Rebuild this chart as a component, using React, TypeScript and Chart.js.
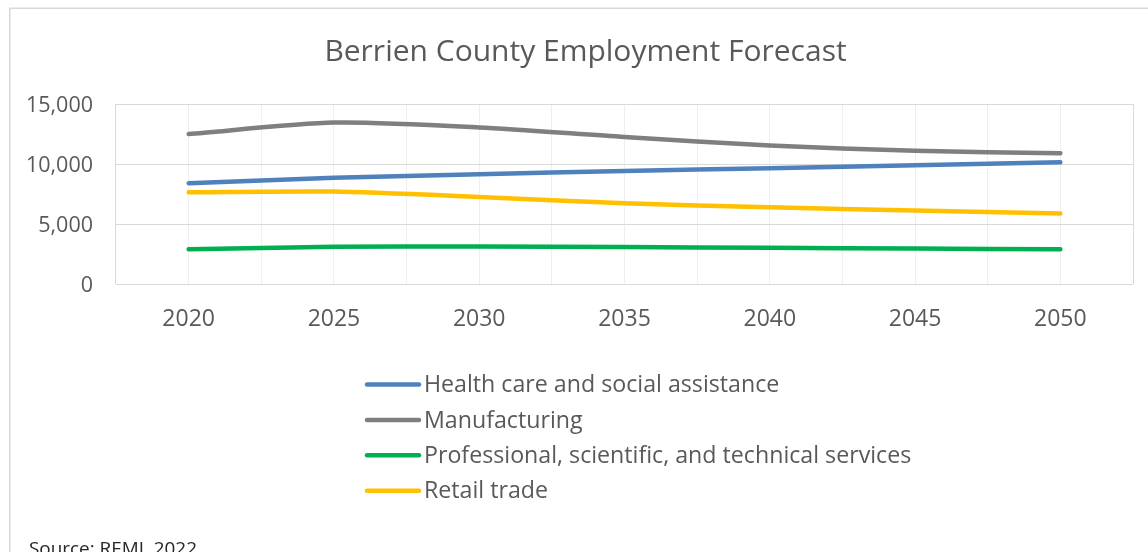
import React, { useEffect, useRef } from "react";
import { Chart, registerables } from "chart.js";

Chart.register(...registerables);

const years = ["2020", "2025", "2030", "2035", "2040", "2045", "2050"];
const health = [8400, 8850, 9150, 9420, 9650, 9900, 10150];
const manufacturing = [12500, 13450, 13050, 12250, 11550, 11100, 10900];
const professional = [2900, 3100, 3120, 3080, 3020, 2950, 2900];
const retail = [7650, 7700, 7250, 6720, 6400, 6120, 5880];
const seriesNames = [
  "Health care and social assistance",
  "Manufacturing",
  "Professional, scientific, and technical services",
  "Retail trade",
];
const seriesColors = ["#4f81bd", "#7f7f7f", "#00b050", "#ffc000"];
const titleText = "Berrien County Employment Forecast";
const sourceText = "Source: REMI, 2022";

const FONT = '"Open Sans", "Noto Sans", sans-serif';
const TEXT = "#595959";

const decorPlugin = {
  id: "decor",
  beforeDraw(chart: any) {
    const ctx = chart.ctx;
    ctx.save();
    ctx.fillStyle = "#ffffff";
    ctx.fillRect(0, 0, chart.width, chart.height);
    ctx.strokeStyle = "#d9d9d9";
    ctx.lineWidth = 1.5;
    ctx.beginPath();
    ctx.moveTo(9.75, chart.height);
    ctx.lineTo(9.75, 8.25);
    ctx.lineTo(chart.width, 8.25);
    ctx.stroke();
    ctx.restore();
  },
  afterDraw(chart: any) {
    const ctx = chart.ctx;
    ctx.save();
    // title
    ctx.fillStyle = TEXT;
    ctx.font = `30px ${FONT}`;
    ctx.textAlign = "center";
    ctx.textBaseline = "alphabetic";
    ctx.fillText(titleText, 585.5, 61);
    // legend
    chart.data.datasets.forEach((ds: any, i: number) => {
      const y = 384.5 + i * 35.4;
      ctx.strokeStyle = ds.borderColor;
      ctx.lineWidth = 4.5;
      ctx.lineCap = "round";
      ctx.beginPath();
      ctx.moveTo(367, y);
      ctx.lineTo(419, y);
      ctx.stroke();
      ctx.fillStyle = TEXT;
      ctx.font = `23.2px ${FONT}`;
      ctx.textAlign = "left";
      ctx.textBaseline = "middle";
      ctx.fillText(ds.label, 424, y + 1);
    });
    // source
    ctx.fillStyle = "#262626";
    ctx.font = `18.9px ${FONT}`;
    ctx.textAlign = "left";
    ctx.textBaseline = "alphabetic";
    ctx.fillText(sourceText, 29, 555);
    ctx.restore();
  },
};

export default function App() {
  const ref = useRef<HTMLCanvasElement | null>(null);
  useEffect(() => {
    if (!ref.current) return;
    const series = [health, manufacturing, professional, retail];
    const chart = new Chart(ref.current, {
      type: "line",
      data: {
        labels: years,
        datasets: series.map((d, i) => ({
          label: seriesNames[i],
          data: d,
          borderColor: seriesColors[i],
          backgroundColor: seriesColors[i],
          borderWidth: 4.5,
          pointRadius: 0,
          borderCapStyle: "round",
          borderJoinStyle: "round",
          tension: 0.25,
          fill: false,
        })),
      },
      options: {
        responsive: false,
        animation: false,
        events: [],
        layout: { padding: { top: 104, left: 0, right: 15, bottom: 208 } },
        plugins: {
          legend: { display: false },
          title: { display: false },
          tooltip: { enabled: false },
        },
        scales: {
          x: {
            type: "category",
            offset: true,
            grid: {
              offset: true,
              drawTicks: false,
              lineWidth: 1,
              color: (c: any) =>
                c.type !== "tick" || c.index === 0 ? "#d9d9d9" : "#efefef",
            },
            border: { display: false },
            ticks: {
              color: TEXT,
              font: { family: FONT, size: 23 },
              padding: 22,
              maxRotation: 0,
            },
            afterFit: (s: any) => {
              s.height = 60;
            },
          },
          x2: {
            type: "category",
            labels: years,
            offset: true,
            position: "bottom",
            grid: { offset: false, drawTicks: false, color: "#efefef", lineWidth: 1 },
            border: { display: false },
            ticks: { display: false },
            afterFit: (s: any) => {
              s.height = 0;
            },
          },
          y: {
            min: 0,
            max: 15000,
            grid: { color: "#d9d9d9", lineWidth: 1, drawTicks: false },
            border: { display: false },
            ticks: {
              stepSize: 5000,
              color: TEXT,
              font: { family: FONT, size: 21.5 },
              padding: 23,
              labelOffset: 1.5,
              callback: (v: any) => Number(v).toLocaleString("en-US"),
            },
            afterFit: (s: any) => {
              s.width = 116;
            },
          },
        },
      } as any,
      plugins: [decorPlugin],
    });
    return () => chart.destroy();
  }, []);
  return (
    <div style={{ position: "fixed", left: 0, top: 0, width: 1148, height: 552, background: "#fff" }}>
      <canvas ref={ref} width={1148} height={552} style={{ display: "block", width: 1148, height: 552 }} />
    </div>
  );
}
